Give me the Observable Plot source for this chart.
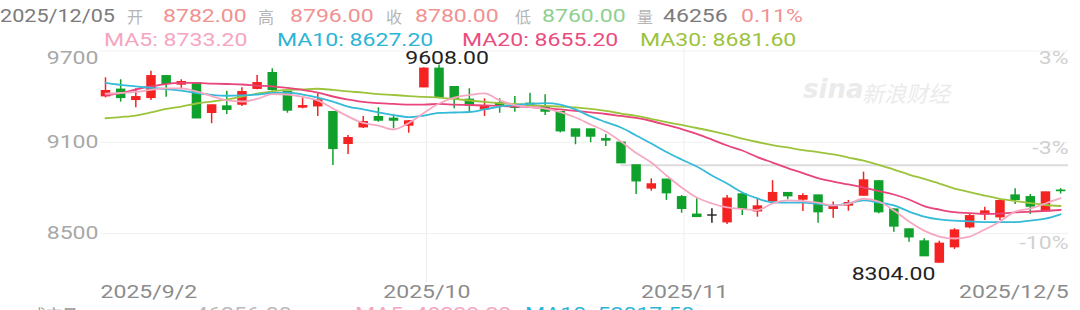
<!DOCTYPE html>
<html><head><meta charset="utf-8">
<script src="https://cdn.jsdelivr.net/npm/d3@7"></script>
<script src="https://cdn.jsdelivr.net/npm/@observablehq/plot@0.6"></script>
<style>
html,body{margin:0;padding:0;background:#fff;overflow:hidden}
#wrap{position:relative;width:1080px;height:310px;overflow:hidden;font-family:Roboto,"Noto Sans CJK SC",sans-serif}
.t{position:absolute;font-size:18px;line-height:18px;white-space:nowrap;transform:scaleX(1.28);transform-origin:left center}
.c{position:absolute;font-size:16px;line-height:18px;color:#b5b5b5;font-family:"Noto Sans CJK SC",sans-serif;white-space:nowrap}
.wm{position:absolute;color:#ebebeb;font-style:italic;white-space:nowrap}
#chart{position:absolute;left:0;top:44px}
</style></head><body><div id="wrap">
<div class="t" style="left:0;top:7px;color:#7b7b7b;transform:scaleX(1.2)">2025/12/05</div>
<div class="c" style="left:127px;top:7px">开</div>
<div class="t" style="left:163px;top:7px;color:#f29191">8782.00</div>
<div class="c" style="left:258px;top:7px">高</div>
<div class="t" style="left:290px;top:7px;color:#f29191">8796.00</div>
<div class="c" style="left:386px;top:7px">收</div>
<div class="t" style="left:415px;top:7px;color:#f29191">8780.00</div>
<div class="c" style="left:515px;top:7px">低</div>
<div class="t" style="left:542px;top:7px;color:#8fcf8f">8760.00</div>
<div class="c" style="left:637px;top:7px">量</div>
<div class="t" style="left:663px;top:7px;color:#7b7b7b">46256</div>
<div class="t" style="left:741px;top:7px;color:#f29191">0.11%</div>
<div class="t" style="left:104px;top:31px;color:#f6a5c0">MA5: 8733.20</div>
<div class="t" style="left:277px;top:31px;color:#2cb5d6">MA10: 8627.20</div>
<div class="t" style="left:462px;top:31px;color:#ea4c7e">MA20: 8655.20</div>
<div class="t" style="left:640px;top:31px;color:#9cc33c">MA30: 8681.60</div>
<div class="wm" style="left:803px;top:74px;font-size:26px;font-weight:bold;font-family:'DejaVu Sans'">sina</div>
<div class="wm" style="left:862px;top:76px;font-size:22px;font-family:'Noto Sans CJK SC'">新浪财经</div>
<div id="chart"></div>
<div class="c" style="left:30px;top:305px;color:#9a9a9a">成交量</div>
<div class="t" style="left:195px;top:305px;color:#b9b9b9">46256.00</div>
<div class="t" style="left:355px;top:305px;color:#f6a5c0">MA5: 48239.20</div>
<div class="t" style="left:525px;top:305px;color:#2cb5d6">MA10: 52017.50</div>
</div>
<script>
// ---- data ----
const open = [9403,9445,9379,9392,9534,9480,9488,9294,9335,9348,
  9452,9554,9429,9329,9337,9298,9090,9199,9265,9254,
  9210,9462,9583,9462,9379,9316,9357,9342,9353,9331,
  9298,9184,9184,9120,9097,8948,8797,8854,8739,8624,
  8619,8575,8757,8647,8713,8766,8724,8750,8663,8685,
  8750,8843,8658,8527,8448,8310,8411,8542,8626,8608,
  8750,8739,8647,8782];
const high = [9524,9511,9452,9567,9536,9511,9492,9345,9436,9458,
  9539,9583,9432,9392,9419,9300,9145,9270,9327,9281,
  9243,9590,9608,9465,9452,9386,9386,9401,9423,9412,
  9300,9186,9186,9151,9100,8950,8860,8856,8750,8729,
  8663,8750,8760,8729,8848,8768,8762,8752,8707,8718,
  8904,8849,8661,8530,8466,8450,8532,8630,8674,8722,
  8795,8757,8772,8796];
const low = [9392,9364,9327,9375,9396,9445,9255,9222,9283,9335,
  9445,9436,9291,9320,9270,8948,9020,9191,9232,9189,
  9160,9458,9386,9320,9291,9270,9291,9298,9331,9276,
  9162,9084,9097,9072,8960,8757,8779,8718,8634,8606,
  8568,8560,8619,8608,8691,8723,8645,8568,8601,8647,
  8746,8630,8509,8444,8350,8304,8396,8532,8586,8586,
  8691,8626,8645,8760];
const close = [9436,9392,9396,9534,9484,9495,9258,9342,9314,9429,
  9488,9445,9309,9337,9375,9057,9127,9232,9243,9243,
  9237,9583,9396,9386,9342,9331,9344,9327,9340,9302,
  9173,9138,9138,9112,8963,8844,8823,8766,8663,8610,
  8619,8729,8663,8678,8766,8746,8746,8641,8678,8700,
  8849,8641,8547,8476,8352,8433,8520,8614,8645,8713,
  8722,8678,8770,8780];
const ma5 = [9419,9424,9431,9444,9454,9454,9434,9404,9375,9368,
  9385,9417,9414,9398,9375,9322,9270,9227,9210,9184,
  9227,9293,9355,9394,9411,9421,9375,9345,9332,9322,
  9299,9263,9217,9171,9105,9030,8967,8882,8803,8737,
  8698,8672,8662,8655,8698,8718,8714,8704,8685,8696,
  8729,8711,8652,8580,8520,8481,8468,8481,8527,8580,
  8645,8665,8698,8733.2];
const ma10 = [9490,9477,9467,9457,9450,9440,9424,9412,9406,9408,
  9414,9424,9427,9414,9394,9368,9335,9316,9296,9279,
  9266,9276,9293,9296,9299,9316,9335,9345,9352,9357,
  9348,9316,9270,9233,9197,9145,9092,9036,8987,8941,
  8882,8829,8770,8731,8706,8704,8704,8695,8685,8698,
  8718,8704,8685,8645,8612,8593,8586,8580,8575,8575,
  8575,8586,8599,8627.2];
const ma20 = [9408,9424,9447,9467,9483,9490,9490,9486,9483,9480,
  9473,9467,9457,9444,9427,9401,9381,9365,9358,9352,
  9348,9348,9352,9348,9345,9342,9339,9335,9332,9325,
  9316,9306,9296,9286,9273,9260,9240,9214,9187,9155,
  9118,9079,9046,9003,8967,8931,8898,8865,8842,8823,
  8803,8780,8757,8724,8681,8658,8641,8635,8630,8632,
  8639,8645,8649,8655.2];
const ma30 = [9258,9266,9276,9296,9319,9335,9355,9368,9381,9401,
  9419,9434,9444,9448,9452,9444,9434,9427,9417,9411,
  9404,9398,9394,9385,9375,9365,9358,9352,9345,9339,
  9335,9329,9319,9306,9289,9273,9253,9233,9214,9194,
  9174,9151,9125,9102,9082,9066,9049,9036,9020,9000,
  8980,8951,8921,8888,8859,8829,8796,8773,8750,8729,
  8714,8701,8688,8681.6];
const xTickIndex = [0, 21, 38, 63];
const xTickLabels = ["2025/9/2", "2025/10", "2025/11", "2025/12/5"];
const monthIndex = [21, 38];
const yTicks = [9700, 9100, 8500];
const pctLabels = ["3%", "-3%", "-10%"];
const pctValues = [9700, 9060, 8440];
const levelValue = 8950;
const levelStartIndex = 34;

// ---- build tables ----
const UP = "#f52222", DOWN = "#10a02c", FLAT = "#222222";
const candles = open.map((o, i) => ({
  i, open: o, high: high[i], low: low[i], close: close[i],
  top: Math.max(o, close[i]), bot: Math.min(o, close[i]),
  color: close[i] > o ? UP : close[i] < o ? DOWN : FLAT
}));
const series = (arr) => arr.map((v, i) => ({i, v}));
const hiC = candles.reduce((a, b) => b.high > a.high ? b : a);
const loC = candles.reduce((a, b) => b.low < a.low ? b : a);
const xt = xTickIndex.map((x, k) => ({x, t: xTickLabels[k]}));
const pct = pctLabels.map((t, k) => ({t, v: pctValues[k]}));

const xDomain = [-0.33, 63.52];
const lineOpts = {x: "i", y: "v", strokeWidth: 1.8, curve: "monotone-x"};

const svg = Plot.plot({
  width: 1080, height: 266,
  marginLeft: 100, marginRight: 12, marginTop: 4, marginBottom: 28,
  x: {type: "linear", domain: xDomain, axis: null},
  y: {domain: [8178.8, 9716.4], axis: null},
  color: {type: "identity"},
  style: {fontFamily: "Roboto, 'Noto Sans CJK SC', sans-serif", background: "transparent", overflow: "visible"},
  marks: [
    Plot.ruleY(yTicks, {stroke: "#f1f1f1", strokeWidth: 1}),
    Plot.ruleX(monthIndex, {dx: 2.5, stroke: "#eeeeee", strokeWidth: 1}),
    Plot.ruleY([levelValue], {x1: levelStartIndex, x2: xDomain[1], stroke: "#dcdcdc", strokeWidth: 2}),
    Plot.ruleX(candles, {x: "i", y1: "low", y2: "high", stroke: "color", strokeWidth: 1.5}),
    Plot.ruleX(candles, {x: "i", y1: "top", y2: "bot", stroke: "color", strokeWidth: 9.5, insetTop: -0.7, insetBottom: -0.7}),
    Plot.line(series(ma30), {...lineOpts, stroke: "#9cc33c"}),
    Plot.line(series(ma20), {...lineOpts, stroke: "#e8457a"}),
    Plot.line(series(ma10), {...lineOpts, stroke: "#35bad9"}),
    Plot.line(series(ma5), {...lineOpts, stroke: "#f6a8c2"}),
    Plot.text(yTicks.slice(0, 1), {y: d => d, text: d => String(d), frameAnchor: "left", textAnchor: "end", lineAnchor: "top", dx: -2, fill: "#a8a8a8", fontSize: 18}),
    Plot.text(yTicks.slice(1), {y: d => d, text: d => String(d), frameAnchor: "left", textAnchor: "end", lineAnchor: "middle", dx: -2, fill: "#a8a8a8", fontSize: 18}),
    Plot.text(pct.slice(0, 1), {y: "v", text: "t", frameAnchor: "right", textAnchor: "end", lineAnchor: "top", fill: "#d0d0d0", fontSize: 18}),
    Plot.text(pct.slice(1), {y: "v", text: "t", frameAnchor: "right", textAnchor: "end", lineAnchor: "middle", fill: "#d0d0d0", fontSize: 18}),
    Plot.text(xt.slice(0, 1), {x: "x", text: "t", frameAnchor: "bottom", textAnchor: "start", lineAnchor: "middle", dx: -5, dy: 10, fill: "#8c8c8c", fontSize: 18}),
    Plot.text(xt.slice(1, 3), {x: "x", text: "t", frameAnchor: "bottom", textAnchor: "middle", lineAnchor: "middle", dx: 3, dy: 10, fill: "#8c8c8c", fontSize: 18}),
    Plot.text(xt.slice(3), {x: "x", text: "t", frameAnchor: "bottom", textAnchor: "end", lineAnchor: "middle", dx: 8, dy: 10, fill: "#8c8c8c", fontSize: 18}),
    Plot.text([hiC], {x: "i", y: "high", text: d => d.high.toFixed(2), textAnchor: "middle", lineAnchor: "bottom", dx: 8, dy: -1, fill: "#222", fontSize: 18}),
    Plot.text([loC], {x: "i", y: "low", text: d => d.low.toFixed(2), textAnchor: "end", lineAnchor: "top", dx: -4, dy: 4, fill: "#222", fontSize: 18})
  ]
});
// widen glyphs like the reference (stretched screenshot)
svg.querySelectorAll("text").forEach(t => {
  const tr = t.getAttribute("transform") || "";
  t.setAttribute("transform", tr + " scale(1.28,1)");
});
document.getElementById("chart").appendChild(svg);
</script>
</body></html>
